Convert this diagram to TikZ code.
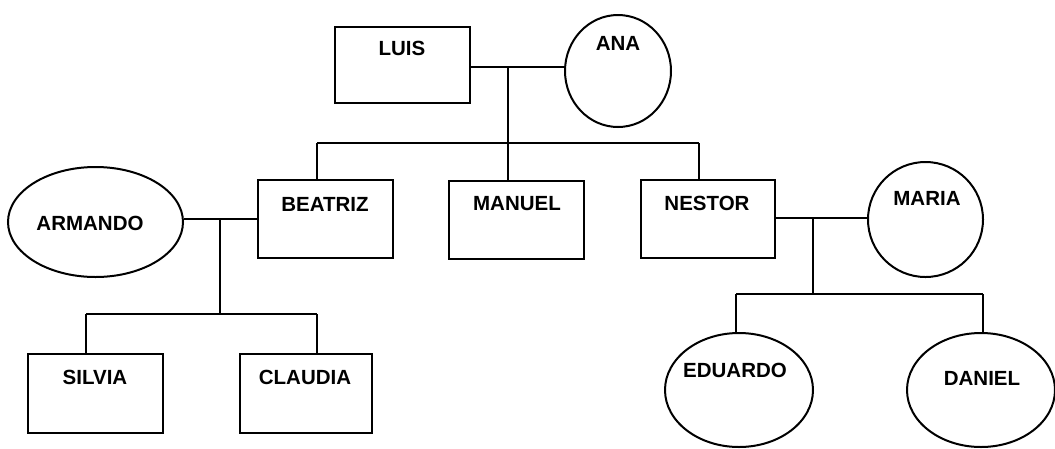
\documentclass[tikz,border=0pt]{standalone}
\usepackage{fontspec}
\setmainfont{Liberation Sans}
\usetikzlibrary{shapes.geometric}
\begin{document}
\begin{tikzpicture}[x=1pt,y=-1pt,
  line width=2pt,
  person/.style={draw,rectangle,inner sep=0pt,minimum width=135pt,minimum height=78pt},
  female/.style={draw,ellipse,inner sep=0pt},
  lbl/.style={inner sep=0pt,font=\bfseries\fontsize{20.5}{20.5}\selectfont},
  link/.style={line width=2pt}]
\useasboundingbox (0,0) rectangle (1055,448);
% shapes
\node[person,minimum height=76pt] (luis) at (402.5,65) {};
\node[female,minimum width=106pt,minimum height=112pt] (ana) at (618,71) {};
\node[person] (beatriz) at (325.5,219) {};
\node[person] (manuel) at (516.5,219.5) {};
\node[person,minimum width=134pt] (nestor) at (708,219) {};
\node[female,minimum width=175pt,minimum height=110pt] (armando) at (95.5,222) {};
\node[female,minimum width=115pt,minimum height=115pt] (maria) at (925.5,219.5) {};
\node[person,minimum height=79pt] (silvia) at (95.5,393.5) {};
\node[person,minimum width=132pt,minimum height=79pt] (claudia) at (306,393.5) {};
\node[female,minimum width=148pt,minimum height=114pt] (eduardo) at (739,390) {};
\node[female,minimum width=148pt,minimum height=114pt] (daniel) at (981,390) {};
% labels
\node[lbl] (tluis) at (402,48) {LUIS};
\node[lbl] (tana) at (618,43) {ANA};
\node[lbl] (tbeatriz) at (325,204) {BEATRIZ};
\node[lbl] (tmanuel) at (517,204) {MANUEL};
\node[lbl] (tnestor) at (707,203) {NESTOR};
\node[lbl] (tarmando) at (90,223) {ARMANDO};
\node[lbl] (tmaria) at (927,198) {MARIA};
\node[lbl] (tsilvia) at (95,377) {SILVIA};
\node[lbl] (tclaudia) at (305,377) {CLAUDIA};
\node[lbl] (teduardo) at (735,370) {EDUARDO};
\node[lbl] (tdaniel) at (982,378) {DANIEL};
% junctions
\coordinate (j1) at (508,67);
\coordinate (b1) at (508,143);
\coordinate (d1) at (317,143);
\coordinate (d2) at (699,143);
\coordinate (j2) at (220,219);
\coordinate (b2) at (220,314);
\coordinate (d3) at (86,314);
\coordinate (d4) at (317,314);
\coordinate (j3) at (813,218);
\coordinate (b3) at (813,294);
\coordinate (d5) at (736,294);
\coordinate (d6) at (983,294);
% connectors
\draw[link] (luis.east |- j1) -- (ana.west |- j1);
\draw[link] (j1) -- (b1);
\draw[link] (d1) -- (d2);
\draw[link] (d1) -- (d1 |- beatriz.north);
\draw[link] (b1) -- (b1 |- manuel.north);
\draw[link] (d2) -- (d2 |- nestor.north);
\draw[link] (armando.east |- j2) -- (beatriz.west |- j2);
\draw[link] (j2) -- (b2);
\draw[link] (d3) -- (d4);
\draw[link] (d3) -- (d3 |- silvia.north);
\draw[link] (d4) -- (d4 |- claudia.north);
\draw[link] (nestor.east |- j3) -- (maria.west |- j3);
\draw[link] (j3) -- (b3);
\draw[link] (d5) -- (d6);
\draw[link] (d5) -- (d5 |- eduardo.north);
\draw[link] (d6) -- (d6 |- daniel.north);
\end{tikzpicture}
\end{document}
